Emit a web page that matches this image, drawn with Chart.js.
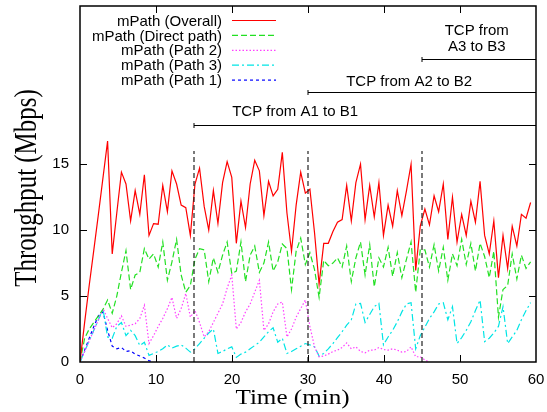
<!DOCTYPE html>
<html>
<head>
<meta charset="utf-8">
<script src="https://cdn.jsdelivr.net/npm/chart.js@4.4.1/dist/chart.umd.min.js"></script>
<style>
  html, body { margin: 0; padding: 0; background: #fff; }
</style>
</head>
<body>
<canvas id="throughput" width="547" height="412"></canvas>
<script>
// sample times (min), one sample every ~0.6 min
const times = [0, 0.61, 1.21, 1.82, 2.42, 3.03, 3.63, 4.24, 4.84, 5.45,
  6.05, 6.66, 7.26, 7.87, 8.47, 9.08, 9.68, 10.29, 10.89, 11.50,
  12.10, 12.71, 13.31, 13.92, 14.52, 15.13, 15.73, 16.34, 16.94, 17.55,
  18.15, 18.76, 19.36, 19.97, 20.57, 21.18, 21.78, 22.39, 22.99, 23.60,
  24.20, 24.81, 25.41, 26.02, 26.62, 27.23, 27.83, 28.44, 29.04, 29.65,
  30.25, 30.86, 31.46, 32.07, 32.67, 33.28, 33.88, 34.49, 35.09, 35.70,
  36.30, 36.91, 37.51, 38.12, 38.72, 39.33, 39.93, 40.54, 41.14, 41.75,
  42.35, 42.96, 43.56, 44.17, 44.77, 45.38, 45.98, 46.59, 47.19, 47.80,
  48.40, 49.01, 49.61, 50.22, 50.82, 51.43, 52.03, 52.64, 53.24, 53.85,
  54.45, 55.06, 55.66, 56.27, 56.87, 57.48, 58.08, 58.69, 59.29];

// throughput (Mbps)
const overall = [0, 3.0, 5.8, 8.5, 11.2, 14.0, 16.75, 8.2, 11.3, 14.4,
  13.5, 10.7, 13.0, 11.2, 14.2, 9.6, 10.5, 10.45, 13.4, 11.4,
  14.5, 13.5, 11.9, 11.7, 9.6, 13.5, 14.7, 11.8, 10.0, 13.0,
  10.5, 13.6, 15.2, 14.0, 9.0, 12.2, 10.2, 13.5, 15.3, 14.5,
  11.1, 13.7, 12.6, 13.1, 15.9, 11.3, 8.4, 11.9, 14.4, 12.8,
  13.1, 9.8, 5.9, 9.0, 9.0, 9.9, 10.6, 10.8, 13.4, 10.7,
  13.6, 15.0, 10.8, 13.4, 11.0, 13.6, 9.6, 11.9, 10.3, 13.0,
  11.1, 13.0, 15.0, 6.95, 10.3, 11.6, 10.4, 12.6, 11.4, 13.5,
  9.3, 12.5, 9.1, 11.2, 9.6, 12.2, 10.6, 13.7, 9.6, 8.2,
  10.7, 6.4, 9.6, 7.1, 10.3, 8.8, 11.2, 10.9, 12.1];

const directPath = [0, 1.8, 2.5, 3.0, 3.5, 4.0, 4.7, 3.7, 5.0, 6.8,
  8.45, 5.5, 6.6, 6.8, 8.6, 7.8, 8.2, 7.2, 9.1, 6.2,
  7.6, 9.3, 6.6, 5.3, 5.8, 7.8, 8.6, 8.5, 6.1, 7.9,
  6.8, 8.1, 9.1, 6.7, 6.9, 9.1, 6.1, 8.1, 8.8, 6.8,
  7.5, 9.1, 6.9, 7.6, 8.95, 8.6, 5.5, 8.4, 9.4, 7.4,
  8.3, 7.0, 4.9, 7.7, 7.3, 7.5, 7.9, 7.2, 8.8, 6.1,
  7.9, 9.1, 6.6, 8.9, 5.7, 7.9, 7.2, 8.7, 6.5, 8.3,
  6.4, 7.8, 9.1, 5.3, 8.5, 8.5, 7.2, 8.9, 6.9, 8.7,
  6.2, 8.2, 7.3, 9.3, 7.4, 9.0, 6.9, 9.0, 8.0, 6.4,
  8.4, 3.4, 5.5, 5.8, 8.2, 6.3, 8.1, 7.1, 7.6];

const path2 = [0, 0.8, 1.6, 2.4, 3.2, 4.05, 3.3, 2.6, 2.9, 3.5,
  2.7, 2.8, 2.9, 3.3, 4.3, 1.4, 2.0, 2.7, 3.3, 4.05,
  4.9, 3.3, 4.05, 5.2, 3.4, 3.9, 3.0, 1.9, 2.3, 3.0,
  3.7, 4.4, 5.6, 6.6, 2.5, 3.0, 3.8, 4.4, 5.3, 6.2,
  2.4, 2.9, 3.8, 4.4, 4.55, 1.9, 2.5, 3.4, 4.05, 4.7,
  2.7, 1.15, 0.4, 0.45, 0.6, 0.8, 0.9, 1.1, 1.45, 1.0,
  1.15, 0.8, 0.7, 0.9, 0.9, 1.1, 0.95, 0.9, 1.0, 0.9,
  0.75, 0.8, 1.15, 0.4, 0.4, 0.15, 0];

const path3 = [0, 0.8, 1.6, 2.4, 3.2, 4.0, 1.9, 1.8, 2.7, 3.0,
  2.0, 2.4, 2.0, 1.25, 1.5, 0.5, 0.65, 0.8, 1.0, 1.3,
  1.05, 1.2, 1.3, 1.05, 0.75, 1.0, 1.4, 1.8, 2.2, 2.5,
  0.65, 0.8, 1.0, 1.15, 0.35, 0.6, 0.75, 1.0, 1.25, 1.5,
  1.9, 2.3, 2.6, 1.5, 1.8, 0.65, 0.8, 1.0, 1.2, 1.4,
  1.3, 1.15, 0.45, 0.65, 1.0, 1.4, 1.85, 2.3, 2.8, 3.2,
  4.4, 4.45, 3.0, 3.6, 4.2, 4.45, 1.3, 1.9, 2.4, 3.05,
  3.8, 4.4, 4.5, 1.0, 2.0, 2.65, 3.3, 3.8, 4.4, 4.5,
  3.2, 4.2, 1.4, 1.85, 2.4, 3.05, 3.9, 4.7, 1.55, 1.8,
  2.2, 2.7, 4.2, 1.4, 1.9, 2.4, 3.2, 3.9, 4.5];

const path1 = [0, 0.9, 1.8, 2.7, 3.5, 3.8, 2.4, 1.2, 1.0, 1.1,
  0.8, 0.85, 0.6, 0.45, 0.3, 0.1, 0];

const seriesNames = ['mPath (Overall)', 'mPath (Direct path)', 'mPath (Path 2)', 'mPath (Path 3)', 'mPath (Path 1)'];
const seriesValues = [overall, directPath, path2, path3, path1];

const xTicks = [0, 10, 20, 30, 40, 50, 60];
const yTicks = [0, 5, 10, 15];

// TCP flows starting during the run
const flowStarts = [15, 30, 45];
const flowLevels = [18, 20.5, 23];
const flowLabels = [['TCP from A1 to B1'], ['TCP from A2 to B2'], ['TCP from', 'A3 to B3']];
const markerTop = 16;

const lineStyles = [
  { color: '#ff0000', dash: [] },
  { color: '#22e022', dash: [6, 3] },
  { color: '#ff40ff', dash: [1.5, 2] },
  { color: '#00e5e5', dash: [7, 3, 2, 3] },
  { color: '#0000ff', dash: [3, 3] }
];

const SANS = '15px "Liberation Sans", Arial, sans-serif';

// frame, inward ticks, flow markers, titles and legend
const decor = {
  id: 'decor',
  afterDatasetsDraw(chart) {
    const { ctx, chartArea: a, scales: { x, y } } = chart;
    ctx.save();

    // vertical dashed markers
    ctx.strokeStyle = '#222';
    ctx.lineWidth = 1.2;
    ctx.setLineDash([5, 3]);
    flowStarts.forEach((t) => {
      const px = x.getPixelForValue(t);
      ctx.beginPath();
      ctx.moveTo(px, y.getPixelForValue(0));
      ctx.lineTo(px, y.getPixelForValue(markerTop));
      ctx.stroke();
    });
    ctx.setLineDash([]);

    // flow bars and labels
    const labelPos = [
      { cx: 28.3, dy: [-10] },
      { cx: 43.3, dy: [-7] },
      { cx: 52.2, dy: [-25, -8.5] }
    ];
    ctx.strokeStyle = '#000';
    ctx.lineWidth = 1;
    ctx.fillStyle = '#000';
    ctx.font = SANS;
    ctx.textAlign = 'center';
    ctx.textBaseline = 'alphabetic';
    flowStarts.forEach((t, i) => {
      const px = x.getPixelForValue(t);
      const py = Math.round(y.getPixelForValue(flowLevels[i])) + 0.5;
      ctx.beginPath();
      ctx.moveTo(px, py);
      ctx.lineTo(a.right, py);
      ctx.moveTo(px, py - 2.5);
      ctx.lineTo(px, py + 2.5);
      ctx.stroke();
      flowLabels[i].forEach((txt, k) => {
        ctx.fillText(txt, x.getPixelForValue(labelPos[i].cx), py + labelPos[i].dy[k]);
      });
    });

    // frame
    ctx.lineWidth = 1.5;
    ctx.strokeRect(a.left, a.top, a.right - a.left, a.bottom - a.top);

    // inward ticks
    ctx.lineWidth = 1;
    ctx.beginPath();
    xTicks.slice(1, -1).forEach((v) => {
      const px = Math.round(x.getPixelForValue(v)) + 0.5;
      ctx.moveTo(px, a.bottom); ctx.lineTo(px, a.bottom - 7);
      ctx.moveTo(px, a.top); ctx.lineTo(px, a.top + 7);
    });
    yTicks.slice(1).forEach((v) => {
      const py = Math.round(y.getPixelForValue(v)) + 0.5;
      ctx.moveTo(a.left, py); ctx.lineTo(a.left + 7, py);
      ctx.moveTo(a.right, py); ctx.lineTo(a.right - 7, py);
    });
    ctx.stroke();

    // axis titles (serif, stretched like the original figure)
    ctx.font = '21px "Liberation Serif", "Times New Roman", serif';
    ctx.textAlign = 'center';
    ctx.save();
    ctx.translate(292.5, 404);
    ctx.scale(1.195, 1);
    ctx.fillText('Time (min)', 0, 0);
    ctx.restore();

    ctx.font = '32px "Liberation Serif", "Times New Roman", serif';
    ctx.save();
    ctx.translate(36, 188);
    ctx.rotate(-Math.PI / 2);
    ctx.scale(0.78, 1);
    ctx.fillText('Throughput (Mbps)', 0, 0);
    ctx.restore();

    // legend
    ctx.font = SANS;
    ctx.textAlign = 'right';
    ctx.textBaseline = 'middle';
    chart.data.datasets.forEach((ds, i) => {
      const ly = 20.5 + i * 14.9;
      ctx.fillStyle = '#000';
      ctx.fillText(ds.label, 222, ly + 1);
      ctx.strokeStyle = ds.borderColor;
      ctx.lineWidth = 1.2;
      ctx.setLineDash(ds.borderDash);
      ctx.beginPath();
      ctx.moveTo(232, ly);
      ctx.lineTo(276, ly);
      ctx.stroke();
    });
    ctx.setLineDash([]);

    ctx.restore();
  }
};

const datasets = seriesNames.map((name, i) => ({
  label: name,
  data: seriesValues[i].map((v, k) => ({ x: times[k], y: v })),
  borderColor: lineStyles[i].color,
  borderDash: lineStyles[i].dash,
  borderWidth: 1.2,
  pointRadius: 0,
  tension: 0,
  fill: false
}));

// no label overhang padding: the plot box is fixed by layout padding and axis sizes
function noPad(s) {
  s.paddingLeft = 0;
  s.paddingRight = 0;
  s.paddingTop = 0;
  s.paddingBottom = 0;
}

const ctx = document.getElementById('throughput').getContext('2d');
new Chart(ctx, {
  type: 'line',
  data: { datasets },
  options: {
    responsive: false,
    animation: false,
    devicePixelRatio: 1,
    layout: { padding: { top: 6, right: 11, left: 0, bottom: 0 } },
    scales: {
      x: {
        type: 'linear',
        min: 0,
        max: 60,
        afterBuildTicks: (s) => { s.ticks = xTicks.map((v) => ({ value: v })); },
        afterFit: (s) => { s.height = 50; noPad(s); },
        grid: { display: false, drawTicks: false },
        border: { display: false },
        ticks: { color: '#000', padding: 9, maxRotation: 0, font: { family: '"Liberation Sans", Arial, sans-serif', size: 15 } }
      },
      y: {
        min: 0,
        max: 27,
        afterBuildTicks: (s) => { s.ticks = yTicks.map((v) => ({ value: v })); },
        afterFit: (s) => { s.width = 80; noPad(s); },
        grid: { display: false, drawTicks: false },
        border: { display: false },
        ticks: { color: '#000', padding: 11, font: { family: '"Liberation Sans", Arial, sans-serif', size: 15 } }
      }
    },
    plugins: {
      legend: { display: false },
      tooltip: { enabled: false }
    }
  },
  plugins: [decor]
});
</script>
</body>
</html>
